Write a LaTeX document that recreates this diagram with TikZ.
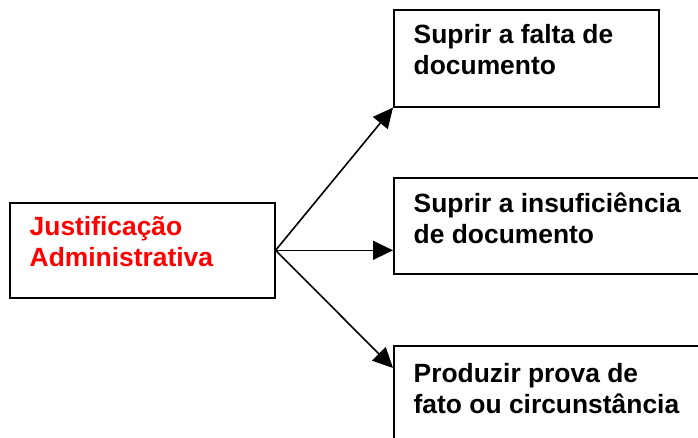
\documentclass[tikz,border=0pt]{standalone}
\usepackage{fontspec}
\setmainfont{Liberation Sans}
\usetikzlibrary{arrows.meta}
\begin{document}
\begin{tikzpicture}[x=1pt,y=-1pt,
  box/.style={draw,line width=1.6pt,anchor=north west,inner sep=0pt},
  lbl/.style={anchor=base west,inner sep=0pt,align=left,
    font=\bfseries\fontsize{26.4}{31}\selectfont},
  conn/.style={line width=1.6pt,-{Triangle[length=20pt,width=19pt]}}]
\useasboundingbox (0,0) rectangle (698,437);
\node[box,minimum width=265pt,minimum height=95pt] (src) at (9,202) {};
\node[box,minimum width=265pt,minimum height=97pt] (b1) at (393,9) {};
\node[box,minimum width=330pt,minimum height=96pt] (b2) at (393,177) {};
\node[box,minimum width=330pt,minimum height=120pt] (b3) at (393,345) {};
\node[lbl,text=red] (tsrc) at (29.5,266.5) {Justificação\\Administrativa};
\node[lbl] (t1) at (413.5,74) {Suprir a falta de\\documento};
\node[lbl] (t2) at (413.5,243.5) {Suprir a insuficiência\\de documento};
\node[lbl] (t3) at (413.5,413) {Produzir prova de\\fato ou circunstância};
\coordinate (e2) at (src.east -| b2.west);
\coordinate (e3) at (393,368);
\draw[conn] (src.east) -- (b1.south west);
\draw[conn] (src.east) -- (e2);
\draw[conn] (src.east) -- (e3);
\end{tikzpicture}
\end{document}
